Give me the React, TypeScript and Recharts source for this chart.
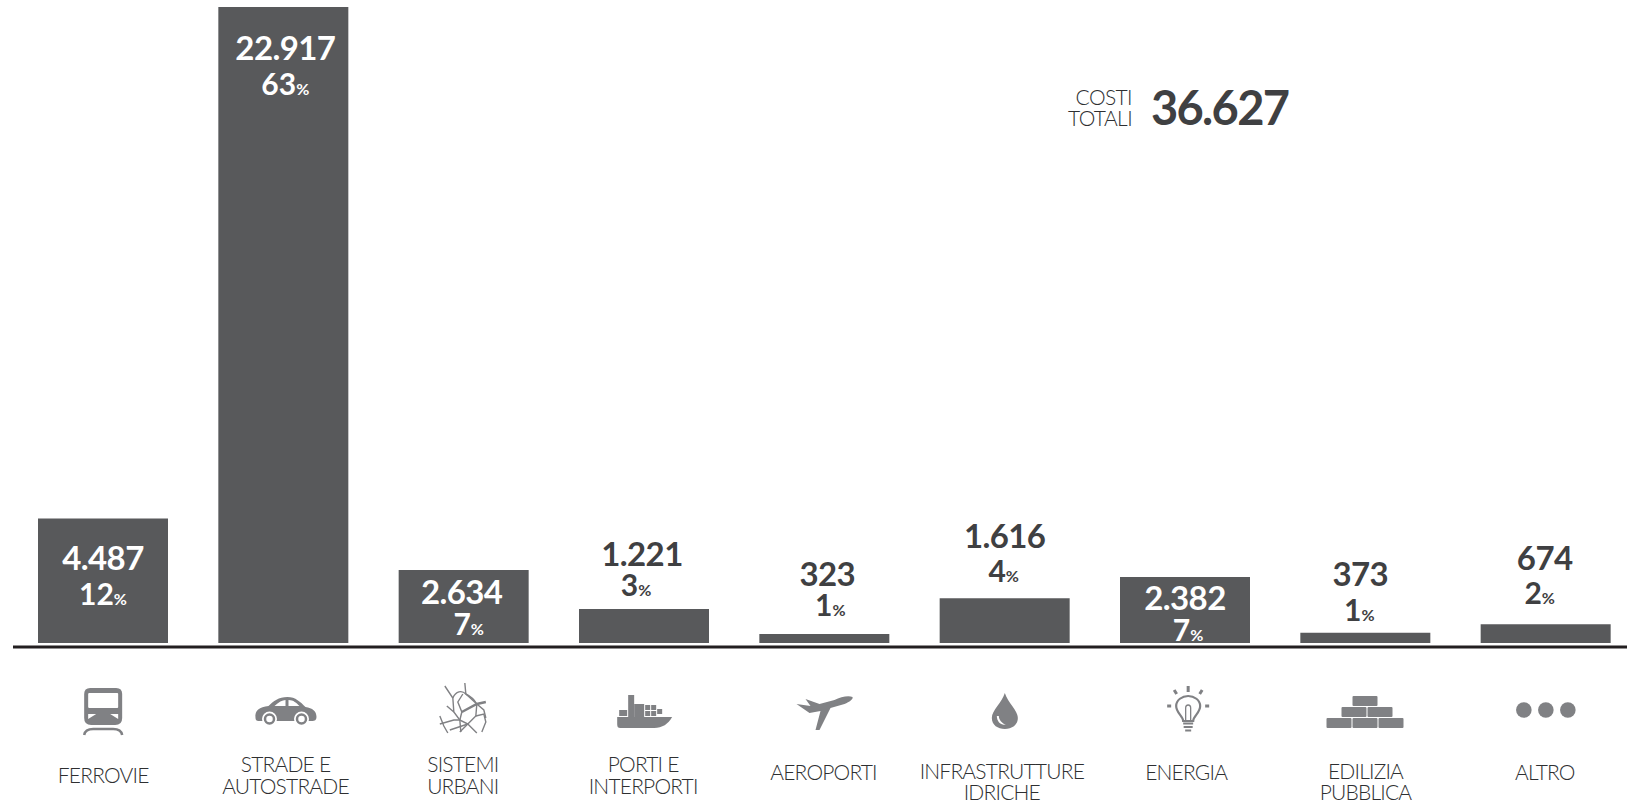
import { Bar, BarChart, LabelList, XAxis, YAxis } from "recharts";

const categories = [
  "FERROVIE",
  "STRADE E|AUTOSTRADE",
  "SISTEMI|URBANI",
  "PORTI E|INTERPORTI",
  "AEROPORTI",
  "INFRASTRUTTURE|IDRICHE",
  "ENERGIA",
  "EDILIZIA|PUBBLICA",
  "ALTRO",
];
const costs = [4487, 22917, 2634, 1221, 323, 1616, 2382, 373, 674];
const shares = [12, 63, 7, 3, 1, 4, 7, 1, 2];
const totalCost = "36.627";

const data = categories.map((name, i) => ({ name, value: costs[i], share: shares[i] }));

// label placement, relative to the top and centre of each bar
const INSIDE = [true, true, true, false, false, false, true, false, false];
const VALUE_DY = [52, 53, 34, -43, -48, -50, 33, -47, -54];
const SHARE_DY = [87, 88, 65, -13, -18, -16, 64, -12, -20];
const VALUE_DX = [0, 2, -2, -2, 3, 0, 0, -5, -1];
const SHARE_DX = [0, 2, 5, -8, 6, -1, 3, -6, -6];
const CAPTION_DY = [136, 125, 125, 125, 133, 132, 133, 132, 133];
const CAPTION_GAP = [0, 22, 22, 22, 0, 20.5, 0, 20.5, 0];
const CAPTION_DX = [0, 2, -1, -1, -1, -3, 1, 0, -1];

const DARK = "#3f4042";
const BAR = "#58595b";
const ICON = "#808184";
const LIGHT = "Lato, sans-serif";
const formatCost = (n: number) => String(n).replace(/\B(?=(\d{3})+$)/g, ".");

const TrainIcon = () => (
  <g>
    <path d="M-13 -24H13Q19 -24 19 -18V6Q19 13 12 13H-12Q-19 13 -19 6V-18Q-19 -24 -13 -24Z" fill={ICON} />
    <rect x={-15} y={-19} width={30} height={15} rx={1} fill="#fff" />
    <path d="M-15 2L-7 2L-15 7Z M15 2L7 2L15 7Z" fill="#fff" />
    <path d="M-19 23Q-18 17 -10 17H10Q18 17 19 23" stroke={ICON} strokeWidth={2.5} fill="none" />
  </g>
);

const CarIcon = () => (
  <g>
    <path
      d="M-30 6C-31 -2 -26 -5 -17 -6C-12 -11 -7 -15 2 -15C10 -15 15 -10 20 -5C27 -4 31 -1 31 5C31 8 29 9 27 9H-27C-29 9 -30 8 -30 6Z"
      fill={ICON}
    />
    <path d="M-11 -6C-7 -10 -3 -12 0 -12V-6Z M3 -12C8 -12 11 -9 14 -6H3Z" fill="#fff" />
    <circle cx={-16} cy={7} r={7.5} fill="#fff" />
    <circle cx={-16} cy={7} r={4.5} fill="none" stroke={ICON} strokeWidth={2.5} />
    <circle cx={16} cy={7} r={7.5} fill="#fff" />
    <circle cx={16} cy={7} r={4.5} fill="none" stroke={ICON} strokeWidth={2.5} />
  </g>
);

const UrbanIcon = () => (
  <g stroke={ICON} fill="none" strokeWidth={1.4}>
    <path d="M-19 -22L-11 -10L-10 4L-4 12L-3 24" />
    <path d="M1 -25L2 -14L13 -4L12 8L4 16L13 25" />
    <path d="M-11 -10C-8 -17 -2 -18 2 -14C6 -12 10 -9 13 -4" />
    <path d="M-24 16L-10 12L-4 12L4 16L-4 24" />
    <path d="M-24 8L-20 18L-16 25" />
    <path d="M-2 4L13 -4L22 -6" strokeWidth={2.4} />
    <path d="M-2 4L-4 12M-2 4L-6 -6L-1 -14" />
    <path d="M12 8L20 6L22 14L18 24" />
    <path d="M13 -4L20 2L22 10" />
    <path d="M4 16L-14 22M-10 4L-17 -2" />
  </g>
);

const ShipIcon = () => (
  <g fill={ICON}>
    <path d="M-27 5H28C24 12 18 16 10 16H-24C-26 16 -27 15 -27 12Z" />
    <rect x={-16} y={-17} width={6} height={22} />
    <rect x={-25} y={-2} width={8} height={6} />
    <rect x={-10} y={-8} width={10} height={13} />
    <path d="M1 -7h5v5h-5zM7 -7h5v5h-5zM13 -3h5v5h-5zM7 -1h5v5h-5zM1 -1h5v5h-5z" />
  </g>
);

const PlaneIcon = () => (
  <path
    d="M28 -15C24 -17 16 -15 10 -12L-5 -8L-19 -13L-14 -6L-28 -8L-15 1L-4 -1L-9 18L-5 18L6 -4L20 -8C25 -10 29 -13 28 -15Z"
    fill={ICON}
  />
);

const DropIcon = () => (
  <g>
    <path d="M0 -18C3 -8 13 -1 13 7C13 14 7 18 0 18C-7 18 -13 14 -13 7C-13 -1 -3 -8 0 -18Z" fill={ICON} />
    <path d="M-8 5C-8 10 -5 14 1 14C-3 12 -6 9 -6 5Z" fill="#fff" />
  </g>
);

const BulbIcon = () => (
  <g stroke={ICON} fill="none">
    <path d="M-5 12C-5 7 -12 4 -12 -3C-12 -9 -6 -13 0 -13C6 -13 12 -9 12 -3C12 4 5 7 5 12Z" strokeWidth={2.2} />
    <path d="M-2.5 11L-2.5 -1C-2.5 -5 2.5 -5 2.5 -1L2.5 11" strokeWidth={1.3} />
    <path d="M-5 14.5H5M-4.5 18H4.5M-3 21.5H3" strokeWidth={2.2} />
    <path d="M0 -23V-17M-14 -19L-11.5 -15M14 -19L11.5 -15M-21 -3H-17M21 -3H17" strokeWidth={3} />
  </g>
);

const BricksIcon = () => (
  <g fill={ICON}>
    <rect x={-13} y={-16} width={25} height={10} rx={1} />
    <rect x={-24} y={-5} width={25} height={10} rx={1} />
    <rect x={2} y={-5} width={25} height={10} rx={1} />
    <rect x={-39} y={6} width={25} height={10} rx={1} />
    <rect x={-13} y={6} width={25} height={10} rx={1} />
    <rect x={13} y={6} width={25} height={10} rx={1} />
  </g>
);

const DotsIcon = () => (
  <g fill={ICON}>
    <circle cx={-22} r={7.8} />
    <circle cx={0} r={7.8} />
    <circle cx={22} r={7.8} />
  </g>
);

// icon and its offset from the tick
const ICONS = [
  { Icon: TrainIcon, dx: 0, dy: 65 },
  { Icon: CarIcon, dx: 2, dy: 65 },
  { Icon: UrbanIcon, dx: 0, dy: 61 },
  { Icon: ShipIcon, dx: 0, dy: 65 },
  { Icon: PlaneIcon, dx: 0, dy: 65 },
  { Icon: DropIcon, dx: 0, dy: 64 },
  { Icon: BulbIcon, dx: 3, dy: 62 },
  { Icon: BricksIcon, dx: 0, dy: 65 },
  { Icon: DotsIcon, dx: 0, dy: 63 },
];

const CategoryTick = ({ x, y, index, payload }: any) => {
  const { Icon, dx, dy } = ICONS[index];
  const lines = String(payload.value).split("|");
  return (
    <g>
      <g transform={`translate(${x + dx},${y + dy})`}>
        <Icon />
      </g>
      {lines.map((line, i) => (
        <text
          key={line}
          x={x + CAPTION_DX[index]}
          y={y + CAPTION_DY[index] + i * CAPTION_GAP[index]}
          textAnchor="middle"
          fontFamily={LIGHT}
          fontWeight={300}
          fontSize={21}
          letterSpacing={-0.8}
          fill="#2e2f31"
        >
          {line}
        </text>
      ))}
    </g>
  );
};

const ValueLabel = ({ x, y, width, index }: any) => {
  const cx = x + width / 2;
  const fill = INSIDE[index] ? "#fff" : DARK;
  return (
    <g fontFamily={LIGHT} fontWeight={700} fill={fill} textAnchor="middle">
      <text x={cx + VALUE_DX[index]} y={y + VALUE_DY[index]} fontSize={33} letterSpacing={-0.6}>
        {formatCost(costs[index])}
      </text>
      <text x={cx + SHARE_DX[index]} y={y + SHARE_DY[index]} fontSize={30}>
        {shares[index]}
        <tspan fontSize={16}>%</tspan>
      </text>
    </g>
  );
};

export default function App() {
  return (
    <div style={{ position: "absolute", left: 0, top: 0, width: 1627, height: 804, overflow: "hidden", background: "#fff" }}>
      <BarChart
        width={1636}
        height={804}
        data={data}
        margin={{ top: 7, right: 0, bottom: 0, left: 13 }}
      >
        <XAxis
          dataKey="name"
          interval={0}
          height={157}
          tickLine={false}
          tickSize={0}
          tickMargin={0}
          axisLine={{ stroke: "#231f20", strokeWidth: 3 }}
          tick={<CategoryTick />}
        />
        <YAxis hide domain={[-144, 22917]} />
        <Bar dataKey="value" fill={BAR} barSize={130} isAnimationActive={false}>
          <LabelList dataKey="value" content={<ValueLabel />} />
        </Bar>
        <text x={1132} y={105} textAnchor="end" fontFamily={LIGHT} fontWeight={300} fontSize={21} letterSpacing={-0.6} fill="#2e2f31">
          COSTI
        </text>
        <text x={1132} y={126} textAnchor="end" fontFamily={LIGHT} fontWeight={300} fontSize={21} letterSpacing={-0.6} fill="#2e2f31">
          TOTALI
        </text>
        <text x={1151} y={125} fontFamily={LIGHT} fontWeight={700} fontSize={47} letterSpacing={-1.7} fill={DARK}>
          {totalCost}
        </text>
      </BarChart>
    </div>
  );
}
